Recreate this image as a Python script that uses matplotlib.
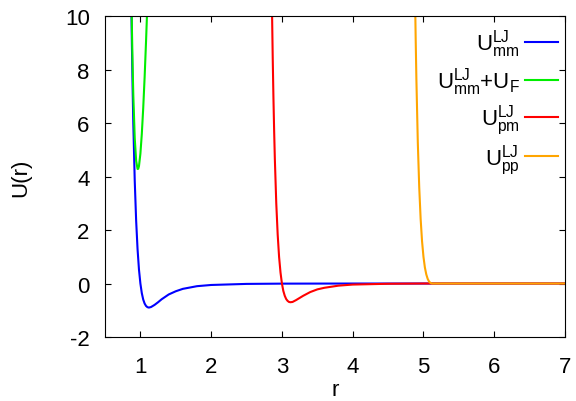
import matplotlib
matplotlib.use("Agg")
import matplotlib.pyplot as plt

plt.rcParams['font.family'] = ['Liberation Sans', 'DejaVu Sans']
plt.rcParams['mathtext.default'] = 'regular'
plt.rcParams['axes.unicode_minus'] = False

# --- values ---
# U_mm^LJ
r_mm = [0.87, 0.88, 0.89, 0.90, 0.92, 0.94, 0.96, 0.98, 1.00, 1.02, 1.04, 1.06,
        1.08, 1.10, 1.12, 1.15, 1.20, 1.25, 1.30, 1.40, 1.50, 1.60, 1.80, 2.00,
        2.50, 3.00, 4.00, 7.00]
u_mm = [10.84, 8.94, 7.34, 5.98, 3.85, 2.35, 1.28, 0.52, 0.00, -0.36, -0.60, -0.75,
        -0.84, -0.885, -0.90, -0.88, -0.80, -0.70, -0.59, -0.41, -0.29, -0.20, -0.10, -0.055,
        -0.015, -0.005, -0.001, 0.0]

# U_mm^LJ + U_F
r_mmf = [0.87, 0.88, 0.89, 0.90, 0.92, 0.94, 0.96, 0.97, 0.98, 1.00, 1.02, 1.04,
         1.06, 1.08, 1.10]
u_mmf = [11.29, 9.56, 8.16, 7.03, 5.44, 4.59, 4.28, 4.29, 4.39, 4.85, 5.59, 6.56,
         7.72, 9.06, 10.55]

# U_pm^LJ
r_pm = [2.86, 2.87, 2.88, 2.89, 2.90, 2.92, 2.94, 2.96, 2.98, 3.00, 3.02, 3.04,
        3.06, 3.08, 3.10, 3.12, 3.15, 3.20, 3.25, 3.30, 3.40, 3.50, 3.60, 3.80,
        4.00, 4.50, 5.00, 7.00]
u_pm = [10.19, 8.43, 6.95, 5.71, 4.65, 3.00, 1.83, 0.99, 0.41, 0.00, -0.28, -0.46,
        -0.58, -0.65, -0.69, -0.70, -0.69, -0.62, -0.54, -0.46, -0.32, -0.22, -0.16, -0.08,
        -0.04, -0.01, 0.0, 0.0]

# U_pp^LJ
r_pp = [4.88, 4.89, 4.90, 4.92, 4.94, 4.96, 4.98, 5.00, 5.02, 5.04, 5.06, 5.08,
        5.10, 5.12, 7.00]
u_pp = [10.93, 9.15, 7.64, 5.28, 3.61, 2.42, 1.58, 1.00, 0.60, 0.34, 0.17, 0.07,
        0.02, 0.0, 0.0]

labels = [r'$U^{LJ}_{mm}$', r'$U^{LJ}_{mm}$+$U_F$', r'$U^{LJ}_{pm}$', r'$U^{LJ}_{pp}$']
colors = ['#0000ff', '#00ee00', '#ff0000', '#ffa500']

fig = plt.figure(figsize=(5.76, 4.02), dpi=100)
ax = fig.add_axes([0.1823, 0.1592, 0.7986, 0.7985])

curves = [(r_mm, u_mm), (r_mmf, u_mmf), (r_pm, u_pm), (r_pp, u_pp)]
for (x, y), lab, c in zip(curves, labels, colors):
    ax.plot(x, y, color=c, lw=1.5, label=lab)

ax.set_xlim(0.5, 7)
ax.set_ylim(-2, 10)
ax.set_xticks([1, 2, 3, 4, 5, 6, 7])
ax.set_yticks([-2, 0, 2, 4, 6, 8, 10])
ax.tick_params(direction='in', top=True, right=True, length=4, labelsize=16)
ax.tick_params(axis='x', pad=14)
ax.tick_params(axis='y', pad=11)
ax.set_xlabel('r', fontsize=16, labelpad=1)
ax.set_ylabel('U(r)', fontsize=16, labelpad=24)

ax.legend(loc='upper right', bbox_to_anchor=(1.0, 0.985), frameon=False,
          markerfirst=False, fontsize=16, handlelength=1.5, handletextpad=0.25,
          labelspacing=0.25, borderpad=0.0, borderaxespad=0.3)

fig.savefig('out.png', dpi=100)
